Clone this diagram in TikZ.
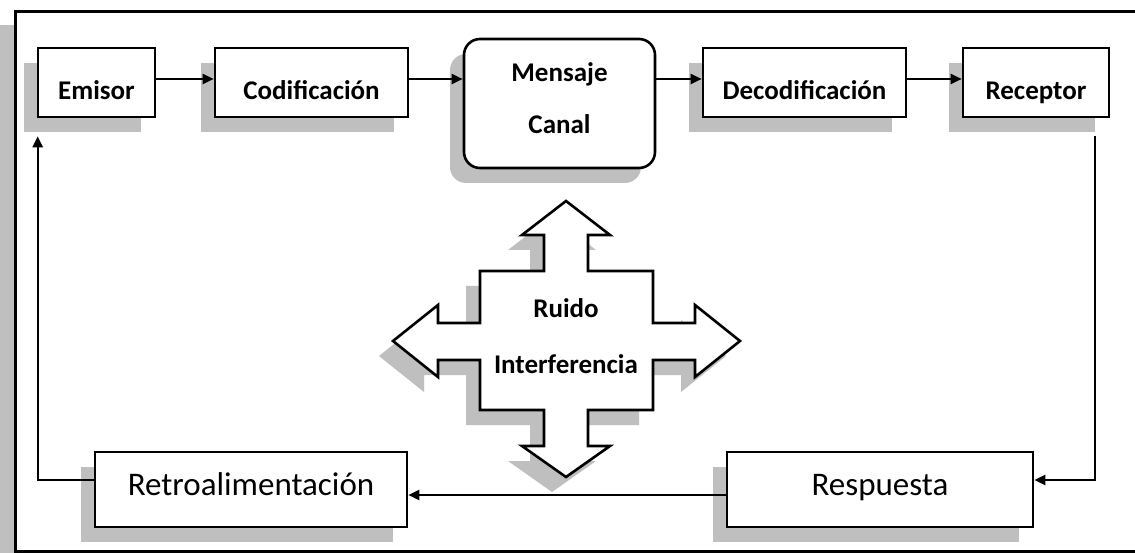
\documentclass[tikz,border=0pt]{standalone}
\usepackage{fontspec}
\setmainfont{Carlito}
\usetikzlibrary{arrows.meta,shadows}
\definecolor{shgray}{HTML}{BFBFBF}
\newcommand{\tl}[2]{\makebox[0pt]{\raisebox{#1}[0pt][0pt]{#2}}}
\tikzset{
  shd/.style={general shadow={shadow xshift=-14pt,shadow yshift=-15pt,fill=shgray}},
  topbox/.style={draw=black,line width=2.6pt,fill=white,shd,font=\bfseries\fontsize{27}{30}\selectfont,inner sep=0pt},
  botbox/.style={draw=black,line width=2.6pt,fill=white,shd,font=\fontsize{33}{36}\selectfont,inner sep=0pt,minimum height=75pt},
  arr/.style={line width=2.3pt,-{Triangle[length=11pt,width=10pt]}},
}
\begin{document}
\begin{tikzpicture}[x=1pt,y=-1pt]
\useasboundingbox (0,0) rectangle (1135,553);
% frame
\fill[shgray] (0,25) rectangle (15,553);
\draw[line width=3pt,fill=white] (15,12) rectangle (1145,551);
% top row
\node[topbox,minimum width=117pt,minimum height=69pt] (emi) at (96.5,82.5) {\tl{-17.5pt}{Emisor}};
\node[topbox,minimum width=193pt,minimum height=69pt] (cod) at (311.5,82.5) {\tl{-17.5pt}{Codificación}};
\node[topbox,rounded corners=16pt,minimum width=191pt,minimum height=129pt] (men) at (559.5,103.5) {\tl{21.5pt}{Mensaje}\tl{-30.5pt}{Canal}};
\node[topbox,minimum width=203pt,minimum height=69pt] (dec) at (804.5,82.5) {\tl{-17.5pt}{Decodificación}};
\node[topbox,minimum width=146pt,minimum height=69pt] (rec) at (1036,82.5) {\tl{-17.5pt}{Receptor}};
% bottom row
\node[botbox,minimum width=312pt] (ret) at (251,489.5) {\tl{-5.5pt}{Retroalimentación}};
\node[botbox,minimum width=306pt] (res) at (880,489.5) {\tl{-5.5pt}{Respuesta}};
% cross arrow
\fill[shgray,xshift=-14pt,yshift=-15pt] (566,201) -- (610,235) -- (588,235) -- (588,271) -- (653,271) -- (653,323) -- (695,323) -- (695,305) -- (740,341) -- (695,377) -- (695,360) -- (653,360) -- (653,410) -- (588,410) -- (588,446) -- (610,446) -- (566,477) -- (522,446) -- (544,446) -- (544,410) -- (480,410) -- (480,360) -- (438,360) -- (438,377) -- (393,341) -- (438,305) -- (438,323) -- (480,323) -- (480,271) -- (544,271) -- (544,235) -- (522,235) -- cycle;
\draw[line width=2.6pt,fill=white,line join=miter] (566,201) -- (610,235) -- (588,235) -- (588,271) -- (653,271) -- (653,323) -- (695,323) -- (695,305) -- (740,341) -- (695,377) -- (695,360) -- (653,360) -- (653,410) -- (588,410) -- (588,446) -- (610,446) -- (566,477) -- (522,446) -- (544,446) -- (544,410) -- (480,410) -- (480,360) -- (438,360) -- (438,377) -- (393,341) -- (438,305) -- (438,323) -- (480,323) -- (480,271) -- (544,271) -- (544,235) -- (522,235) -- cycle;
\node[font=\bfseries\fontsize{27}{30}\selectfont,inner sep=0pt] (rui) at (566,340) {\tl{22pt}{Ruido}\tl{-33pt}{Interferencia}};
% connectors
\draw[arr] ([yshift=3.5pt]emi.east) -- ([yshift=3.5pt]cod.west);
\draw[arr] ([yshift=3.5pt]cod.east) -- ([yshift=3.5pt]cod.east -| men.west);
\draw[arr] ([yshift=3.5pt]dec.east -| men.east) -- ([yshift=3.5pt]dec.west);
\draw[arr] ([yshift=3.5pt]dec.east) -- ([yshift=3.5pt]rec.west);
\coordinate (rs) at ([xshift=59pt,yshift=-18pt]rec.south);
\draw[arr] (rs) |- ([yshift=9.5pt]res.east);
\draw[arr] ([yshift=-5.5pt]res.west) -- ([yshift=-5.5pt]ret.east);
\coordinate (es) at ([xshift=1pt,yshift=-18pt]emi.south west);
\draw[arr] ([yshift=9.5pt]ret.west) -| (es);
\end{tikzpicture}
\end{document}
